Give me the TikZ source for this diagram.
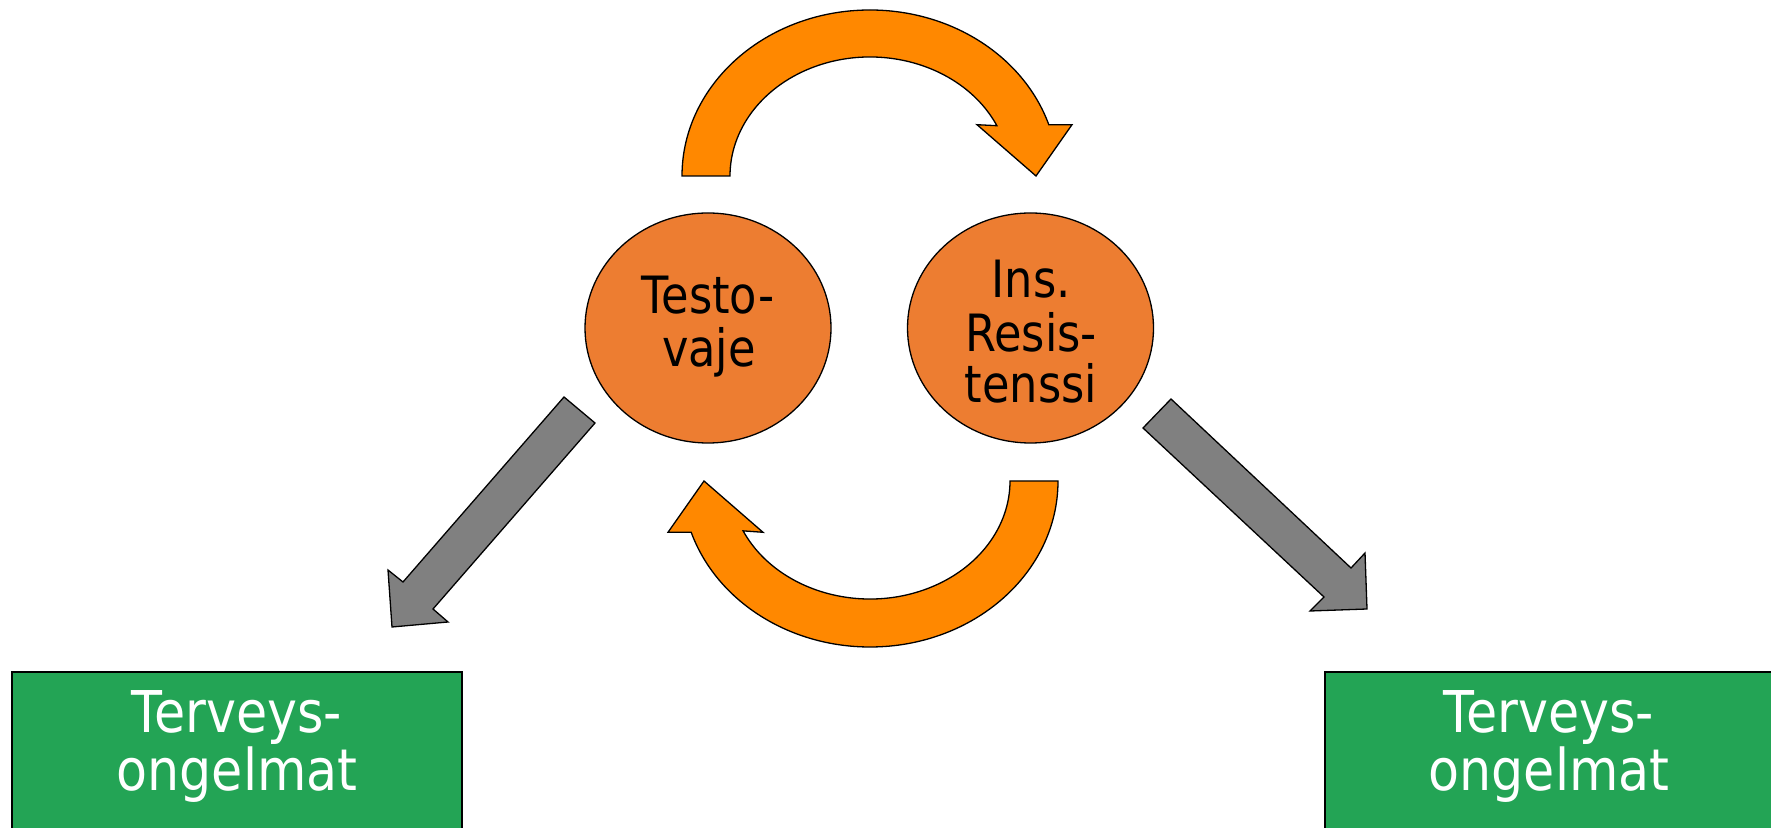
\documentclass[tikz,border=0pt]{standalone}
\usepackage{fontspec}
\usetikzlibrary{shapes.geometric}
\newfontfamily\ellfont[FakeStretch=0.87]{DejaVu Sans}
\newfontfamily\boxfont[FakeStretch=0.88]{DejaVu Sans}
\definecolor{ellorange}{RGB}{237,125,49}
\definecolor{arrorange}{RGB}{255,136,0}
\definecolor{boxgreen}{RGB}{35,164,85}
\definecolor{arrgray}{RGB}{128,128,128}
\tikzset{
  ellnode/.style={ellipse, draw=black, line width=1.3pt, fill=ellorange, minimum width=246pt, minimum height=230pt, inner sep=0pt},
  elltext/.style={anchor=base, inner sep=0pt, font=\ellfont\fontsize{51.4}{51.4}\selectfont, text=black},
  boxnode/.style={draw=black, line width=1.3pt, fill=boxgreen},
  boxtext/.style={anchor=base, inner sep=0pt, font=\boxfont\fontsize{57.6}{57.6}\selectfont, text=white},
  orangearrow/.style={draw=black, line width=1.3pt, fill=arrorange, line join=miter},
  grayarrow/.style={draw=black, line width=1.3pt, fill=arrgray, line join=miter}
}
\begin{document}
\begin{tikzpicture}[x=1pt,y=1pt]
\useasboundingbox (0,0) rectangle (1771,827);
\clip (0,0) rectangle (1771,827);
\fill[white] (0,0) rectangle (1771,827);
% ellipses
\node[ellnode] (testo) at (708,499) {};
\node[ellnode] (ins) at (1030.5,499) {};
\node[elltext] (t1) at (708,513) {Testo-};
\node[elltext] (t2) at (709,460) {vaje};
\node[elltext] (r1) at (1031,529) {Ins.};
\node[elltext] (r2) at (1031,475) {Resis-};
\node[elltext] (r3) at (1031,424) {tenssi};
% top curved arrow
\draw[orangearrow] (682,651) arc[start angle=180, end angle=18, x radius=188, y radius=166]
  -- (1072,702.3) -- (1036,651) -- (977,702.3)
  -- ({870+140*cos(25)},{651+119*sin(25)}) arc[start angle=25, end angle=180, x radius=140, y radius=119]
  -- cycle;
% bottom curved arrow
\draw[orangearrow] (1058,346) arc[start angle=0, end angle=-162, x radius=188, y radius=166]
  -- (668,294.7) -- (704,346) -- (763,294.7)
  -- ({870-140*cos(25)},{346-118*sin(25)}) arc[start angle=-155, end angle=0, x radius=140, y radius=118]
  -- cycle;
% gray arrows
\draw[grayarrow] (564,430) -- (403,245) -- (388,257) -- (392,200) -- (448,205) -- (433,218) -- (595,404) -- cycle;
\draw[grayarrow] (1171,428) -- (1351,259) -- (1365,274) -- (1367,218) -- (1310,216) -- (1324,230) -- (1143,399) -- cycle;
% green boxes
\draw[boxnode] (12,155) rectangle (462,-20);
\draw[boxnode] (1325,155) rectangle (1773,-20);
\node[boxtext] (g1) at (237,95) {Terveys-};
\node[boxtext] (g2) at (237,37) {ongelmat};
\node[boxtext] (h1) at (1549,95) {Terveys-};
\node[boxtext] (h2) at (1549,37) {ongelmat};
\end{tikzpicture}
\end{document}
